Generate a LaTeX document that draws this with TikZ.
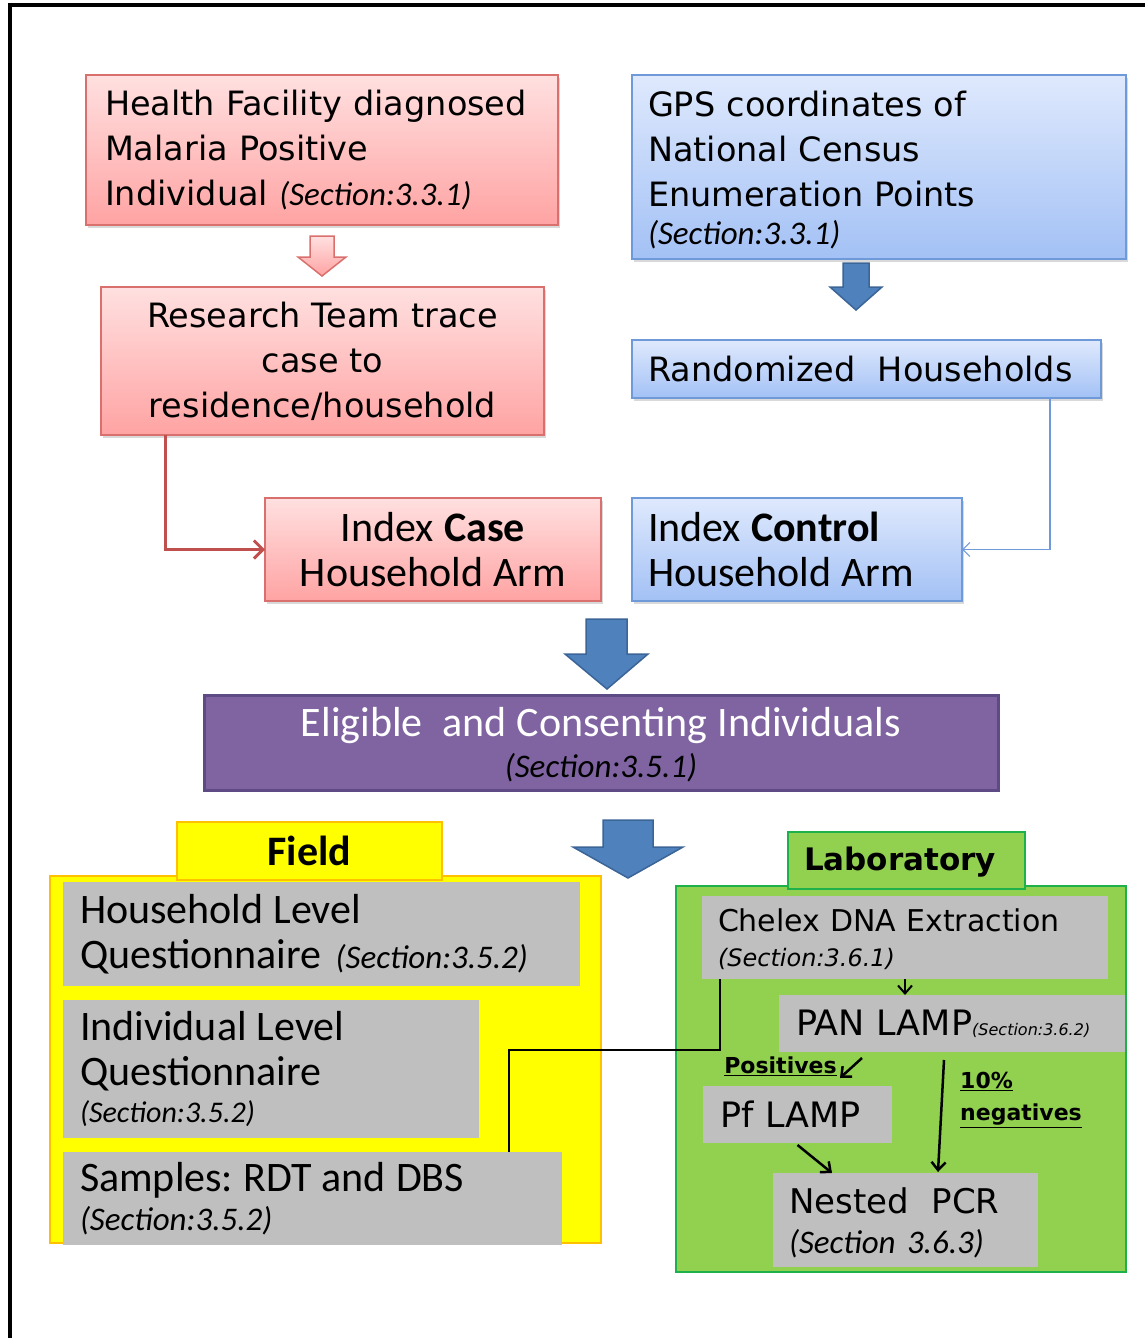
\documentclass[tikz,border=0pt]{standalone}
\usepackage{fontspec}
\usetikzlibrary{calc,shadows,arrows.meta}
\newfontfamily\verd{DejaVu Sans}
\newfontfamily\calfnt{Carlito}
\newcommand{\wsp}{\hspace{10pt}}
\newcommand{\secit}{\calfnt\itshape\fontsize{33}{40}\selectfont\frenchspacing}
\definecolor{redtop}{HTML}{FFE0E0}
\definecolor{redbot}{HTML}{FFA3A3}
\definecolor{redline}{HTML}{D9706E}
\definecolor{redconn}{HTML}{C0504D}
\definecolor{bluetop}{HTML}{DFE9FD}
\definecolor{bluebot}{HTML}{A3C1F5}
\definecolor{blueline}{HTML}{6F9ADA}
\definecolor{arrblue}{HTML}{4F81BD}
\definecolor{arrblueline}{HTML}{3B6497}
\definecolor{purp}{HTML}{8064A2}
\definecolor{purpline}{HTML}{5E4A85}
\definecolor{yel}{HTML}{FFFF00}
\definecolor{yelline}{HTML}{FFC000}
\definecolor{grn}{HTML}{92D050}
\definecolor{grnline}{HTML}{1EB04A}
\definecolor{gry}{HTML}{BFBFBF}
\begin{document}
\begin{tikzpicture}[x=1pt,y=-1pt,
  box/.style={rectangle, inner ysep=0pt, outer sep=0pt},
  redbox/.style={box, draw=redline, line width=1.5pt, top color=redtop, bottom color=redbot,
     drop shadow={opacity=0.3, shadow xshift=2pt, shadow yshift=-3pt}},
  bluebox/.style={box, draw=blueline, line width=1.5pt, top color=bluetop, bottom color=bluebot,
     drop shadow={opacity=0.3, shadow xshift=2pt, shadow yshift=-3pt}},
  graybox/.style={box, fill=gry, align=left},
  verdtxt/.style={font=\verd\fontsize{33.5}{45}\selectfont},
  caltxt/.style={font=\calfnt\fontsize{42}{45}\selectfont\frenchspacing},
  blockarrow/.style={fill=arrblue, draw=arrblueline, line width=1.5pt, line join=miter},
  blk/.style={draw=black, line width=2.5pt, -{Straight Barb[length=8pt,width=14pt]}}
]
\useasboundingbox (0,0) rectangle (1145,1338);
% frame
\draw[line width=4pt] (8,5) -- (1145,5);
\draw[line width=4pt] (10,3) -- (10,1338);

% top left
\node[redbox, verdtxt, minimum width=472, minimum height=150, inner xsep=19pt, text width=434pt, align=left]
  (hf) at (322,150) {Health Facility diagnosed\\Malaria Positive\\Individual {\secit (Section:3.3.1)}};
\path[top color=redtop, bottom color=redbot, draw=redline, line width=1.5pt]
  (310,236) -- (334,236) -- (334,257) -- (346,257) -- (322,276) -- (298,257) -- (310,257) -- cycle;
\node[redbox, verdtxt, minimum width=443, minimum height=148, inner xsep=5pt, text width=433pt, align=center]
  (rt) at (322.5,361) {Research Team trace\\case to\\residence/household};
\node[redbox, caltxt, minimum width=336, minimum height=103, inner xsep=5pt, text width=326pt, align=center]
  (ic) at (433,549.5) {Index\wsp\textbf{Case}\\Household\wsp Arm};
\draw[redconn, line width=3pt, -{Straight Barb[length=9pt,width=18pt]}]
  ($(rt.south west)+(64,0)$) |- (ic.west);

% top right
\node[bluebox, verdtxt, minimum width=494, minimum height=184, inner xsep=16pt, text width=462pt, align=left]
  (gps) at (879,167) {\rule{0pt}{32pt}GPS coordinates of\\National Census\\Enumeration Points\\[-7pt]{\secit (Section:3.3.1)}};
\path[blockarrow] (843,263) -- (869,263) -- (869,287) -- (882,287) -- (856,310) -- (830,287) -- (843,287) -- cycle;
\node[bluebox, verdtxt, minimum width=469, minimum height=58, inner xsep=16pt, text width=437pt, align=left]
  (rh) at (866.5,369) {\mbox{Randomized\ \ Households}};
\node[bluebox, caltxt, minimum width=330, minimum height=103, inner xsep=16pt, text width=298pt, align=left]
  (icon) at (797,549.5) {Index\wsp\textbf{Control}\\Household\wsp Arm};
\draw[blueline, line width=1.2pt, -{Straight Barb[length=7pt,width=14pt]}]
  ($(rh.south west)+(418,0)$) |- (icon.east);

% middle
\path[blockarrow] (586,619) -- (627,619) -- (627,654) -- (648,654) -- (607,689) -- (565,654) -- (586,654) -- cycle;
\node[box, fill=purp, draw=purpline, line width=3pt, minimum width=794, minimum height=95, text width=780pt, inner xsep=7pt,
  align=center, font=\calfnt\fontsize{42}{41}\selectfont]
  (ec) at (601,742.5) {\rule{0pt}{34pt}\textcolor{white}{Eligible\wsp\wsp and\wsp Consenting\wsp Individuals}\\{\secit (Section:3.5.1)}};
\path[blockarrow] (603,820) -- (653,820) -- (653,847) -- (683,847) -- (628,878) -- (573,847) -- (603,847) -- cycle;

% field
\node[box, fill=yel, draw=yelline, line width=1.2pt, minimum width=551, minimum height=367] (fieldbg) at (325.5,1059.5) {};
\node[box, fill=yel, draw=yelline, line width=1.2pt, minimum width=265, minimum height=58, font=\calfnt\bfseries\fontsize{42}{45}\selectfont]
  (fieldtab) at (309.5,851) {Field};
\node[graybox, caltxt, minimum width=517, minimum height=104, inner xsep=17pt, text width=483pt]
  (hl) at (321.5,934) {Household\wsp Level\\Questionnaire {\secit (Section:3.5.2)}};
\node[graybox, caltxt, minimum width=416, minimum height=138, inner xsep=17pt, text width=382pt]
  (il) at (271,1069) {Individual\wsp Level\\Questionnaire\\[-8pt]{\calfnt\itshape\fontsize{30}{40}\selectfont (Section:3.5.2)}};
\node[graybox, caltxt, minimum width=499, minimum height=93, inner xsep=17pt, text width=465pt]
  (sm) at (312.5,1198.5) {Samples:\wsp RDT\wsp and\wsp DBS\\[-6pt]{\secit (Section:3.5.2)}};

% laboratory
\node[box, fill=grn, draw=grnline, line width=1.5pt, minimum width=450, minimum height=386] (labbg) at (901,1079) {};
\node[box, fill=grn, draw=grnline, line width=1.5pt, minimum width=237, minimum height=57, text width=205pt, inner xsep=16pt, align=left,
  font=\verd\bfseries\fontsize{31}{40}\selectfont]
  (labtab) at (906.5,860.5) {\rule{0pt}{27pt}Laboratory};
\node[graybox, minimum width=406, minimum height=83, inner xsep=16pt, text width=374pt, font=\verd\fontsize{30}{35}\selectfont]
  (ch) at (905,937.5) {\rule{0pt}{26pt}\mbox{Chelex DNA Extraction}\\{\verd\itshape\fontsize{24}{35}\selectfont (Section:3.6.1)}};
\node[graybox, minimum width=346, minimum height=57, inner xsep=17pt, text width=312pt, font=\verd\fontsize{35}{40}\selectfont]
  (pan) at (952,1023.5) {\mbox{PAN LAMP{\verd\itshape\fontsize{16}{20}\selectfont(Section:3.6.2)}}};
\node[graybox, minimum width=189, minimum height=57, inner xsep=17pt, text width=155pt, font=\verd\fontsize{35}{40}\selectfont]
  (pf) at (797.5,1114.5) {\mbox{Pf LAMP}};
\node[graybox, minimum width=265, minimum height=94, inner xsep=16pt, text width=233pt, font=\verd\fontsize{34}{40}\selectfont]
  (nest) at (905.5,1220) {\rule{0pt}{32pt}\mbox{Nested\ \ PCR}\\{\secit (Section 3.6.3)}};
\node[inner sep=0pt, font=\verd\bfseries\fontsize{22}{32}\selectfont] (posl) at (780.5,1066) {\underline{Positives}};
\node[inner sep=0pt, anchor=west, align=left, font=\verd\bfseries\fontsize{22}{32}\selectfont] (negl) at (960,1100)
  {\underline{10\%}\\\underline{negatives}};

% lab connectors
\draw[line width=2.5pt] ($(ch.south west)+(18,0)$) -- ++(0,71) -| ($(sm.north west)+(446,0)$);
\draw[blk, line width=2pt] (ch.south) -- (ch.south |- pan.north);
\coordinate (p1) at ($(pan.south west)+(83,6)$);
\coordinate (p2) at ($(pf.north east)+(-52,-8)$);
\draw[blk] (p1) -- (p2);
\draw[blk] ($(pf.south)+(0,2)$) -- ($(nest.north west)+(59,0)$);
\draw[blk] ($(pan.south)+(-8,8)$) -- ($(nest.north)+(32.5,-1)$);
\end{tikzpicture}
\end{document}
